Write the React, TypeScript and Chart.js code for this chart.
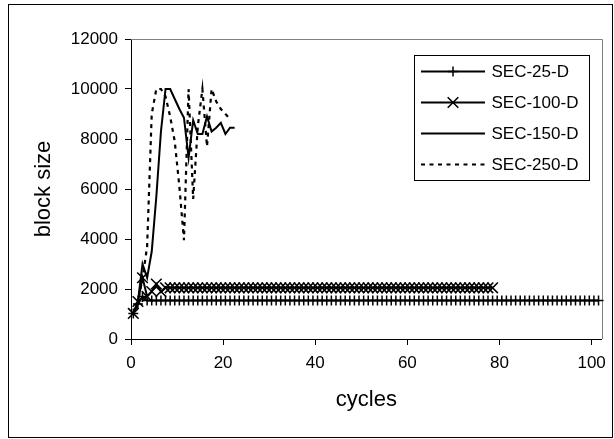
import { useEffect, useRef } from 'react';
import { Chart, registerables } from 'chart.js';

Chart.register(...registerables);

const SERIES_NAMES = ['SEC-25-D', 'SEC-100-D', 'SEC-150-D', 'SEC-250-D'];

// block size per cycle (cycle i plotted at i + 0.5)
const SEC_25_D = [
  1024, 1400, 1700, 1536, 1536, 1536, 1536, 1536, 1536, 1536,
  1536, 1536, 1536, 1536, 1536, 1536, 1536, 1536, 1536, 1536,
  1536, 1536, 1536, 1536, 1536, 1536, 1536, 1536, 1536, 1536,
  1536, 1536, 1536, 1536, 1536, 1536, 1536, 1536, 1536, 1536,
  1536, 1536, 1536, 1536, 1536, 1536, 1536, 1536, 1536, 1536,
  1536, 1536, 1536, 1536, 1536, 1536, 1536, 1536, 1536, 1536,
  1536, 1536, 1536, 1536, 1536, 1536, 1536, 1536, 1536, 1536,
  1536, 1536, 1536, 1536, 1536, 1536, 1536, 1536, 1536, 1536,
  1536, 1536, 1536, 1536, 1536, 1536, 1536, 1536, 1536, 1536,
  1536, 1536, 1536, 1536, 1536, 1536, 1536, 1536, 1536, 1536,
  1536, 1536,
];

const SEC_100_D = [
  1024, 1500, 2450, 1700, 1900, 2200, 1900, 2048, 2048, 2048,
  2048, 2048, 2048, 2048, 2048, 2048, 2048, 2048, 2048, 2048,
  2048, 2048, 2048, 2048, 2048, 2048, 2048, 2048, 2048, 2048,
  2048, 2048, 2048, 2048, 2048, 2048, 2048, 2048, 2048, 2048,
  2048, 2048, 2048, 2048, 2048, 2048, 2048, 2048, 2048, 2048,
  2048, 2048, 2048, 2048, 2048, 2048, 2048, 2048, 2048, 2048,
  2048, 2048, 2048, 2048, 2048, 2048, 2048, 2048, 2048, 2048,
  2048, 2048, 2048, 2048, 2048, 2048, 2048, 2048, 2048,
];

const SEC_150_D = [
  1024, 1500, 3000, 2450, 3500, 5700, 8300, 10000, 10000, 9600,
  9200, 8850, 7250, 8750, 8200, 8200, 8900, 8300, 8450, 8650,
  8200, 8450, 8450,
];

const SEC_250_D = [
  1024, 1500, 2400, 3700, 9000, 10000, 10000, 9700, 8900, 7900,
  6100, 3950, 10000, 5600, 8500, 10000, 7700, 10000, 9500, 9200,
  9000, 8800,
];

const X_TICKS = [0, 20, 40, 60, 80, 100];
const Y_TICKS = [0, 2000, 4000, 6000, 8000, 10000, 12000];

const X_TITLE = 'cycles';
const Y_TITLE = 'block size';

const FONT = "Arial, 'Liberation Sans', Helvetica, sans-serif";
const CYCLE_SHIFT = 0.5;

const toPoints = (vals: number[]) => vals.map((v, i) => ({ x: i + CYCLE_SHIFT, y: v }));

const framePlugin = {
  id: 'frameAndLegend',
  beforeDatasetsDraw(chart: any) {
    const { ctx, chartArea } = chart;
    ctx.save();
    ctx.strokeStyle = '#808080';
    ctx.lineWidth = 1;
    ctx.beginPath();
    ctx.moveTo(chartArea.left, Math.round(chartArea.top) + 0.5);
    ctx.lineTo(Math.round(chartArea.right) + 0.5, Math.round(chartArea.top) + 0.5);
    ctx.lineTo(Math.round(chartArea.right) + 0.5, chartArea.bottom);
    ctx.stroke();
    ctx.restore();
  },
  afterDraw(chart: any) {
    const { ctx } = chart;
    ctx.save();
    // outer border
    ctx.strokeStyle = '#000';
    ctx.lineWidth = 1;
    ctx.strokeRect(8.5, 4.5, 604, 433);
    // legend box
    ctx.fillStyle = '#fff';
    ctx.fillRect(414.5, 55.5, 175, 125);
    ctx.strokeRect(414.5, 55.5, 175, 125);
    chart.data.datasets.forEach((ds: any, i: number) => {
      const y = 71.5 + i * 31;
      ctx.beginPath();
      ctx.setLineDash(ds.borderDash || []);
      ctx.lineWidth = ds.borderWidth;
      ctx.strokeStyle = ds.borderColor;
      ctx.moveTo(421, y);
      ctx.lineTo(485, y);
      ctx.stroke();
      ctx.setLineDash([]);
      const cx = 453;
      if (ds.pointRadius > 0) {
        ctx.lineWidth = ds.pointBorderWidth;
        ctx.beginPath();
        if (ds.pointStyle === 'cross') {
          const r = ds.pointRadius;
          ctx.moveTo(cx, y - r);
          ctx.lineTo(cx, y + r);
          ctx.moveTo(cx - r, y);
          ctx.lineTo(cx + r, y);
        } else {
          const d = ds.pointRadius * Math.SQRT1_2;
          ctx.moveTo(cx - d, y - d);
          ctx.lineTo(cx + d, y + d);
          ctx.moveTo(cx + d, y - d);
          ctx.lineTo(cx - d, y + d);
        }
        ctx.stroke();
      }
      ctx.fillStyle = '#000';
      ctx.font = `17px ${FONT}`;
      ctx.textAlign = 'left';
      ctx.textBaseline = 'middle';
      ctx.fillText(ds.label, 491.5, y + 1);
    });
    ctx.restore();
  },
};

export default function App() {
  const canvasRef = useRef<HTMLCanvasElement | null>(null);

  useEffect(() => {
    document.body.style.margin = '0';
    const canvas = canvasRef.current;
    if (!canvas) return;

    const common = {
      borderColor: '#000',
      backgroundColor: '#000',
      pointBorderColor: '#000',
      pointBackgroundColor: '#000',
      tension: 0,
      fill: false,
      clip: false as any,
    };

    const chart = new Chart(canvas, {
      type: 'line',
      data: {
        datasets: [
          {
            ...common,
            label: SERIES_NAMES[0],
            data: toPoints(SEC_25_D),
            borderWidth: 2,
            pointStyle: 'cross',
            pointRadius: 5,
            pointBorderWidth: 1.5,
          },
          {
            ...common,
            label: SERIES_NAMES[1],
            data: toPoints(SEC_100_D),
            borderWidth: 2,
            pointStyle: 'crossRot',
            pointRadius: 7.5,
            pointBorderWidth: 1.6,
          },
          {
            ...common,
            label: SERIES_NAMES[2],
            data: toPoints(SEC_150_D),
            borderWidth: 2,
            pointRadius: 0,
          },
          {
            ...common,
            label: SERIES_NAMES[3],
            data: toPoints(SEC_250_D),
            borderWidth: 2.2,
            borderDash: [4, 4.5],
            pointRadius: 0,
          },
        ] as any,
      },
      options: {
        responsive: false,
        animation: false,
        events: [],
        layout: { padding: { left: 0, top: 39, right: 9, bottom: 0 } },
        plugins: {
          legend: { display: false },
          tooltip: { enabled: false },
          title: { display: false },
        },
        scales: {
          x: {
            type: 'linear',
            min: 0,
            max: 102.2,
            afterBuildTicks: (scale: any) => {
              scale.ticks = X_TICKS.map((v) => ({ value: v }));
            },
            afterFit: (scale: any) => {
              scale.height = 100;
            },
            grid: {
              display: true,
              drawOnChartArea: false,
              drawTicks: true,
              tickLength: 6,
              color: '#000',
            },
            border: { display: true, color: '#000', width: 1 },
            ticks: {
              color: '#000',
              font: { family: FONT, size: 17 },
              padding: 8,
              maxRotation: 0,
              autoSkip: false,
            },
            title: {
              display: true,
              text: X_TITLE,
              color: '#000',
              font: { family: FONT, size: 22 },
              padding: { top: 0, bottom: 25.8 },
            },
          },
          y: {
            type: 'linear',
            min: 0,
            max: 12000,
            afterBuildTicks: (scale: any) => {
              scale.ticks = Y_TICKS.map((v) => ({ value: v }));
            },
            afterFit: (scale: any) => {
              scale.width = 131;
            },
            grid: {
              display: true,
              drawOnChartArea: false,
              drawTicks: true,
              tickLength: 6,
              color: '#000',
            },
            border: { display: true, color: '#000', width: 1 },
            ticks: {
              color: '#000',
              font: { family: FONT, size: 17 },
              padding: 7,
              autoSkip: false,
              callback: (v: any) => String(v),
            },
            title: {
              display: true,
              text: Y_TITLE,
              color: '#000',
              font: { family: FONT, size: 22 },
              padding: { top: 30.8, bottom: 0 },
            },
          },
        },
      },
      plugins: [framePlugin],
    });

    return () => chart.destroy();
  }, []);

  return (
    <div style={{ position: 'absolute', left: 0, top: 0, width: 614, height: 439 }}>
      <canvas ref={canvasRef} width={614} height={439} style={{ display: 'block' }} />
    </div>
  );
}
